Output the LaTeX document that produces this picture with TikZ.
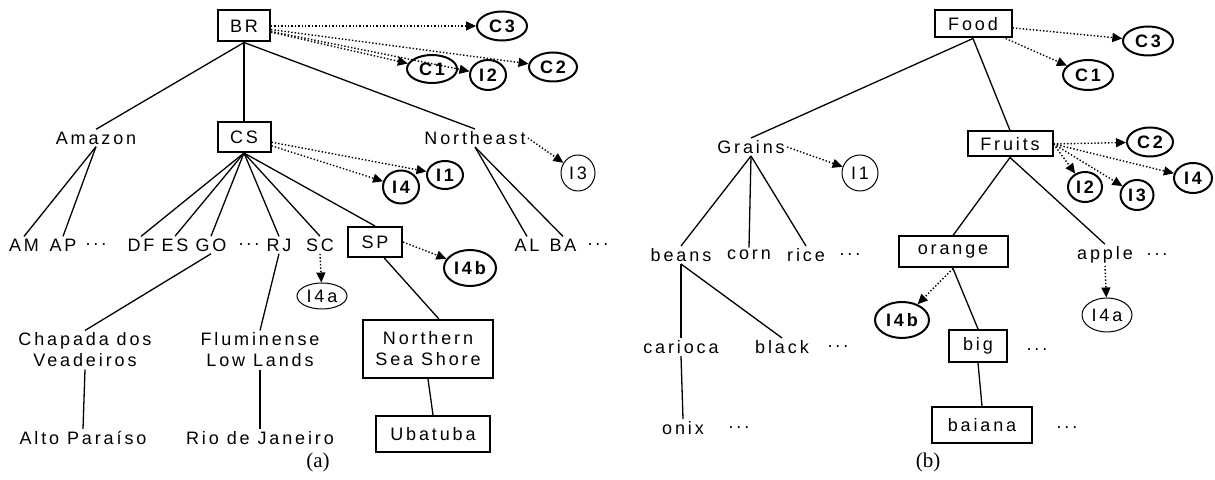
\documentclass[tikz,border=0pt]{standalone}
\usepackage{fontspec}
\setmainfont{Liberation Serif}
\newfontfamily\lblfont[LetterSpace=16]{Liberation Sans}
\usetikzlibrary{arrows.meta,shapes.geometric}

\begin{document}
\begin{tikzpicture}[
  x=0.5pt,y=-0.5pt,
  txt/.style={font=\lblfont\fontsize{9}{10.5}\selectfont,inner sep=1pt,align=center},
  box/.style={txt,draw,line width=1pt,inner sep=0pt},
  concept/.style={ellipse,draw,line width=1pt,inner sep=0pt,font=\lblfont\fontsize{9}{10}\selectfont\bfseries,minimum width=25pt,minimum height=14.5pt},
  inst/.style={concept,minimum width=18pt,minimum height=15pt},
  plain/.style={ellipse,draw,line width=0.5pt,inner sep=0pt,font=\lblfont\fontsize{9}{10}\selectfont,minimum width=17pt,minimum height=17pt},
  branch/.style={line width=0.65pt},
  ref/.style={densely dotted,line width=0.7pt,-{Triangle[length=5pt,width=4.5pt]}},
  subcap/.style={font=\fontsize{10.5}{12}\selectfont}
]
\useasboundingbox (0,0) rectangle (1215,480);
% (a) regions of Brazil
\node[box,minimum width=26pt,minimum height=15.5pt] (br) at (244,26) {BR};
\node[concept] (c3) at (502,26) {C3};
\node[concept,minimum height=14pt] (c1) at (432,69) {C1};
\node[inst] (i2) at (488,75) {I2};
\node[concept,minimum width=24pt] (c2) at (553,67) {C2};
\node[txt] (amazon) at (96,138) {Amazon};
\node[box,minimum width=26.5pt,minimum height=15pt] (cs) at (244,137) {CS};
\node[txt] (northeast) at (475,138) {Northeast};
\node[inst,minimum height=14pt] (i1) at (445,175) {I1};
\node[inst,minimum height=16.5pt] (i4) at (401,187) {I4};
\node[plain,minimum height=18pt] (i3) at (578,173) {I3};
\node[txt] (am) at (24,245) {AM};
\node[txt] (ap) at (63,245) {AP};
\node[txt] (etca) at (96,245) {...};
\node[txt] (df) at (141,245) {DF};
\node[txt] (es) at (175,245) {ES};
\node[txt] (go) at (211,245) {GO};
\node[txt] (etcb) at (249,245) {...};
\node[txt] (rj) at (279,245) {RJ};
\node[txt] (sc) at (320,245) {SC};
\node[box,minimum width=27pt,minimum height=15pt] (sp) at (375,242) {SP};
\node[concept,minimum width=26pt,minimum height=18pt] (i4b) at (470,268) {I4b};
\node[plain,minimum width=25pt,minimum height=13pt] (i4a) at (322,296) {I4a};
\node[txt] (al) at (527,245) {AL};
\node[txt] (ba) at (563,245) {BA};
\node[txt] (etcc) at (598,245) {...};
\node[txt] (chapada) at (85,350) {Chapada dos\\Veadeiros};
\node[txt] (flum) at (260,350) {Fluminense\\Low Lands};
\node[box,minimum width=65pt,minimum height=29pt] (northern) at (428,349) {Northern\\Sea Shore};
\node[txt] (alto) at (83,438) {Alto Paraíso};
\node[txt] (rio) at (260,438) {Rio de Janeiro};
\node[box,minimum width=57pt,minimum height=18pt] (ubatuba) at (433,434) {Ubatuba};
\node[subcap] (capa) at (318,462) {(a)};
\draw[branch] (br.south) -- (amazon.north);
\draw[branch] (br.south) -- (cs.north);
\draw[branch] (br.south) -- (northeast.north);
\draw[branch] (amazon.south) -- (am.north);
\draw[branch] (amazon.south) -- (ap.north);
\foreach \n in {df,es,go,rj,sc,sp}
  \draw[branch] (cs.south) -- (\n.north);
\draw[branch] (northeast.south) -- (al.north);
\draw[branch] (northeast.south) -- (ba.north);
\draw[branch] (go.south) -- (chapada.north);
\draw[branch] (rj.south) -- (flum.north);
\draw[branch] (chapada.south) -- (alto.north);
\draw[branch] (flum.south) -- (rio.north);
\draw[branch] (sp.300) -- (northern.70);
\draw[branch] (northern.south) -- (ubatuba.north);
\foreach \n in {c3,c1,i2,c2}
  \draw[ref] (br) -- (\n);
\draw[ref] (cs) -- (i1);
\draw[ref] (cs) -- (i4);
\draw[ref] (northeast.east) -- (i3);
\draw[ref] (sc.south) -- (i4a);
\draw[ref] (sp.east) -- (i4b);
% (b) food
\node[box,minimum width=38.5pt,minimum height=13.5pt] (food) at (973,24) {Food};
\node[concept] (fc3) at (1148,41) {C3};
\node[concept,minimum height=15pt] (fc1) at (1088,75) {C1};
\node[txt] (grains) at (751,147) {Grains};
\node[plain,minimum width=18pt,minimum height=18pt] (fi1) at (860,173) {I1};
\node[box,minimum width=42.5pt,minimum height=12.5pt] (fruits) at (1010,144) {Fruits};
\node[concept,minimum width=23pt] (fc2) at (1150,142) {C2};
\node[inst,minimum width=17pt] (fi2) at (1085,187) {I2};
\node[inst,minimum width=16.5pt] (fi3) at (1137,195) {I3};
\node[inst,minimum width=19pt] (fi4) at (1193,178) {I4};
\node[txt] (beans) at (681,255) {beans};
\node[txt] (corn) at (749,255) {corn};
\node[txt] (rice) at (806,255) {rice};
\node[txt] (etcd) at (850,255) {...};
\node[box,minimum width=54.5pt,minimum height=15.5pt] (orange) at (953,252) {orange};
\node[txt] (apple) at (1105,255) {apple};
\node[txt] (etce) at (1157,255) {...};
\node[concept,minimum width=27pt,minimum height=18pt] (fi4b) at (902,320) {I4b};
\node[plain,minimum width=25pt,minimum height=17pt] (fi4a) at (1107,315) {I4a};
\node[txt] (carioca) at (681,347) {carioca};
\node[txt] (black) at (782,347) {black};
\node[txt] (etcf) at (838,347) {...};
\node[box,minimum width=29pt,minimum height=16pt] (big) at (978,346) {big};
\node[txt] (etcg) at (1037,350) {...};
\node[txt] (onix) at (683,428) {onix};
\node[txt] (etch) at (739,428) {...};
\node[box,minimum width=50pt,minimum height=18pt] (baiana) at (982,425) {baiana};
\node[txt] (etci) at (1067,428) {...};
\node[subcap] (capb) at (928,462) {(b)};
\draw[branch] (food.south) -- (grains.north);
\draw[branch] (food.south) -- (fruits.north);
\foreach \n in {beans,corn,rice}
  \draw[branch] (grains.south) -- (\n.north);
\draw[branch] (beans.south) -- (carioca.north);
\draw[branch] (beans.south) -- (black.north);
\draw[branch] (carioca.south) -- (onix.north);
\draw[branch] (fruits.south) -- (orange.north);
\draw[branch] (fruits.south) -- (apple.north);
\draw[branch] (orange.south) -- (big.north);
\draw[branch] (big.south) -- (baiana.north);
\draw[ref] (food) -- (fc3);
\draw[ref] (food) -- (fc1);
\draw[ref] (grains.east) -- (fi1);
\foreach \n in {fc2,fi2,fi3,fi4}
  \draw[ref] (fruits.east) -- (\n);
\draw[ref] (orange.south) -- (fi4b);
\draw[ref] (apple.south) -- (fi4a);
\end{tikzpicture}
\end{document}
